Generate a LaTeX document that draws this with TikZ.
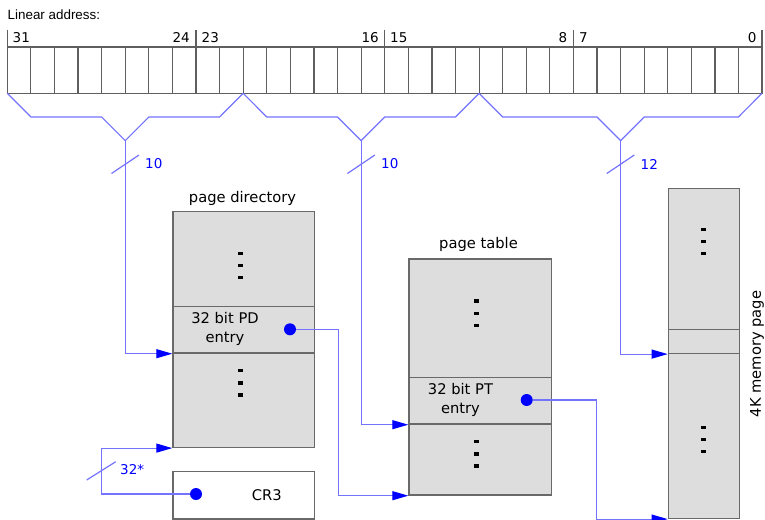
\documentclass[tikz,border=0pt]{standalone}
\usepackage{fontspec}
\setmainfont{DejaVu Sans}
\newfontfamily\addrfont{Liberation Sans}
\usetikzlibrary{arrows.meta}

\definecolor{tablegray}{RGB}{221,221,221}
\definecolor{edgegray}{RGB}{105,105,105}
\definecolor{cellgray}{RGB}{95,95,95}
\definecolor{linkblue}{RGB}{115,115,255}

\tikzset{
	tablebox/.style = {draw = edgegray, fill = tablegray, line width = 1.4pt, inner sep = 0pt, anchor = north west},
	regbox/.style = {tablebox, fill = white},
	linkdot/.style = {circle, fill = blue, minimum size = 12pt, inner sep = 0pt},
	buslabel/.style = {text = blue, anchor = west, inner sep = 0pt, font = \fontsize{13.5}{15}\selectfont},
	bitlabel/.style = {inner sep = 0pt, font = \fontsize{13.5}{15}\selectfont}
}

\begin{document}
\begin{tikzpicture}[x = 1pt, y = -1pt, font = \fontsize{14.7}{19}\selectfont]

	\useasboundingbox (0, 0) rectangle (765, 519);

	% Linear address

	\node [anchor = west, inner sep = 0pt, font = \addrfont\fontsize{13.4}{15}\selectfont] (addrtitle) at (7.5, 14.5) {Linear address:};

	\begin{scope}[draw = cellgray, line width = 1.2pt]

		\draw (7.3, 47) rectangle (762, 93.3);
		\foreach \i in {1, ..., 31}
			\draw (7.3 + \i*23.59, 47) -- (7.3 + \i*23.59, 93.3);
		\foreach \x in {7.3, 196, 384.6, 573.4, 762}
			\draw (\x, 30) -- (\x, 47);

	\end{scope}

	\node [bitlabel, anchor = west] (bit31) at (12.5, 37.8) {31};
	\node [bitlabel, anchor = east] (bit24) at (190, 37.8) {24};
	\node [bitlabel, anchor = west] (bit23) at (201.5, 37.8) {23};
	\node [bitlabel, anchor = east] (bit16) at (379, 37.8) {16};
	\node [bitlabel, anchor = west] (bit15) at (390, 37.8) {15};
	\node [bitlabel, anchor = east] (bit8) at (567.5, 37.8) {8};
	\node [bitlabel, anchor = west] (bit7) at (579, 37.8) {7};
	\node [bitlabel, anchor = east] (bit0) at (756.7, 37.8) {0};

	% Bit groups

	\coordinate (dirsplit) at (125.25, 140.6);
	\coordinate (tablesplit) at (361.15, 140.6);
	\coordinate (offsetsplit) at (620.55, 140.6);

	\begin{scope}[linkblue, line width = 1.2pt]

		\draw (7.3, 93.3) -- (30.9, 117) -- (101.6, 117) -- (dirsplit) -- (148.9, 117) -- (219.6, 117) -- (243.2, 93.3);
		\draw (243.2, 93.3) -- (266.8, 117) -- (337.5, 117) -- (tablesplit) -- (384.8, 117) -- (455.5, 117) -- (479.1, 93.3);
		\draw (479.1, 93.3) -- (502.7, 117) -- (596.9, 117) -- (offsetsplit) -- (644.2, 117) -- (738.4, 117) -- (762, 93.3);

		\draw (111.5, 173.5) -- (139, 155);
		\draw (347.4, 173.5) -- (374.9, 155);
		\draw (606.8, 173.5) -- (634.3, 155);
		\draw (86.7, 480) -- (115.7, 461.7);

	\end{scope}

	\node [buslabel] (dirwidth) at (145, 164) {10};
	\node [buslabel] (tablewidth) at (381, 164) {10};
	\node [buslabel] (offsetwidth) at (640.5, 164) {12};
	\node [buslabel] (cr3width) at (120, 469.5) {32*};

	% Tables

	\node [tablebox, minimum width = 141.7pt, minimum height = 236pt] (pd) at (172.3, 210.7) {};
	\node [tablebox, minimum width = 141.7pt, minimum height = 46.3pt] (pdentry) at (172.3, 306) {};
	\node [tablebox, minimum width = 142.4pt, minimum height = 236pt] (pt) at (408.3, 258.3) {};
	\node [tablebox, minimum width = 142.4pt, minimum height = 46.6pt] (ptentry) at (408.3, 376.7) {};
	\node [tablebox, minimum width = 71.3pt, minimum height = 330pt] (page) at (667.7, 187.7) {};
	\node [tablebox, minimum width = 71.3pt, minimum height = 23.7pt] (pageentry) at (667.7, 329) {};
	\node [regbox, minimum width = 141.7pt, minimum height = 47.6pt] (cr3) at (172.3, 470.7) {};

	\node (pdtitle) at (242.5, 198.3) {page directory};
	\node (pttitle) at (478.5, 244.3) {page table};
	\node [rotate = 90] (pagetitle) at (757, 354) {4K memory page};
	\node [align = center] (pdtext) at (225, 329) {32 bit PD\\entry};
	\node [align = center] (pttext) at (460.5, 399.7) {32 bit PT\\entry};
	\node (cr3text) at (266.7, 495) {CR3};

	\foreach \x/\y in {240.7/253.3, 240.7/370.7, 476.8/301, 476.3/441.7, 703.3/229.3, 703.3/427.3}
		\foreach \d in {0, 12.2, 24.4}
			\fill (\x - 2.5, \y + \d - 1.7) rectangle ++(5, 3.4);

	% Links

	\node [linkdot] (pddot) at (290, 329.3) {};
	\node [linkdot] (ptdot) at (526.7, 400) {};
	\node [linkdot] (cr3dot) at (196, 494) {};

	\begin{scope}[linkblue, line width = 1.2pt, -{Triangle[length = 16pt, width = 9pt, color = blue]}]

		\draw (dirsplit) |- (pdentry.south west);
		\draw (tablesplit) |- (ptentry.south west);
		\draw (offsetsplit) |- (pageentry.south west);
		\draw (pddot) -| ([xshift = -70pt]pt.south west) -- (pt.south west);
		\draw (ptdot) -| ([xshift = -71pt]page.south west) -- (page.south west);
		\draw (cr3dot) -| ([xshift = -70.6pt]pd.south west) -- (pd.south west);

	\end{scope}

\end{tikzpicture}
\end{document}
